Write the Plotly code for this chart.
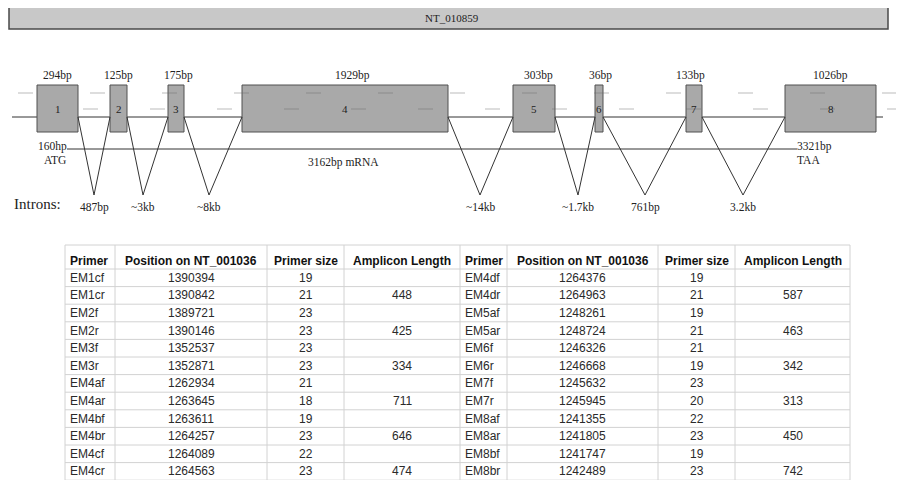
import plotly.graph_objects as go

# ---------------- data ----------------
contig_name = "NT_010859"
exon_numbers = ["1", "2", "3", "4", "5", "6", "7", "8"]
exon_sizes = ["294bp", "125bp", "175bp", "1929bp", "303bp", "36bp", "133bp", "1026bp"]
intron_sizes = ["487bp", "~3kb", "~8kb", "~14kb", "~1.7kb", "761bp", "3.2kb"]
start_label = ["160hp", "ATG"]
stop_label = ["3321bp", "TAA"]
mrna_label = "3162bp mRNA"

header = ["Primer", "Position on NT_001036", "Primer size", "Amplicon Length"]
primers_left = ["EM1cf", "EM1cr", "EM2f", "EM2r", "EM3f", "EM3r",
                "EM4af", "EM4ar", "EM4bf", "EM4br", "EM4cf", "EM4cr"]
pos_left = ["1390394", "1390842", "1389721", "1390146", "1352537", "1352871",
            "1262934", "1263645", "1263611", "1264257", "1264089", "1264563"]
size_left = ["19", "21", "23", "23", "23", "23", "21", "18", "19", "23", "22", "23"]
amp_left = ["", "448", "", "425", "", "334", "", "711", "", "646", "", "474"]
primers_right = ["EM4df", "EM4dr", "EM5af", "EM5ar", "EM6f", "EM6r",
                 "EM7f", "EM7r", "EM8af", "EM8ar", "EM8bf", "EM8br"]
pos_right = ["1264376", "1264963", "1248261", "1248724", "1246326", "1246668",
             "1245632", "1245945", "1241355", "1241805", "1241747", "1242489"]
size_right = ["19", "21", "19", "21", "21", "19", "23", "20", "22", "23", "19", "23"]
amp_right = ["", "587", "", "463", "", "342", "", "313", "", "450", "", "742"]

# ---------------- layout geometry (pixels in the window) ----------------
W, H = 904, 480
BODY = 8  # default page margin around the plot div
exon_x = [(37, 78), (110, 127), (168, 184), (242, 448), (513, 555), (595, 603), (686, 702), (785, 876)]
size_label_x = [57, 118, 178, 352, 538, 600, 690, 830]
intron_apex_x = [94, 143, 209, 480, 578, 645, 743]
exon_top, exon_bot = 85, 132
line_y = 117
apex_y = 195
mrna_y = 149

col_edges = [65, 115, 267, 344, 460, 507, 658, 735, 850]
tbl_top, hdr_bottom, row_h = 245, 269, 17.6

serif = "Liberation Serif"
sans = "Liberation Sans"
TXT = "#222"

fig = go.Figure()
shapes = []
annots = []


def label(x, y, text, size, family=serif, color=TXT, xanchor="center"):
    annots.append(dict(x=x, y=y, text=text, showarrow=False, xanchor=xanchor, yanchor="middle",
                       font=dict(family=family, size=size, color=color)))


# top contig bar
shapes.append(dict(type="rect", x0=9, x1=888, y0=5, y1=29, fillcolor="#c8c8c8",
                   line=dict(color="#4a4a4a", width=1.5), layer="above"))
label(452, 17.5, contig_name, 11)

# faint dashed background lines
shapes.append(dict(type="line", x0=18, x1=904, y0=93, y1=93,
                   line=dict(color="rgba(110,110,110,0.3)", width=1.5, dash="15px,57px"), layer="above"))
shapes.append(dict(type="line", x0=83, x1=904, y0=109, y1=109,
                   line=dict(color="rgba(110,110,110,0.3)", width=1.5, dash="15px,52px"), layer="above"))

# main genomic line and mRNA line
shapes.append(dict(type="line", x0=12, x1=883, y0=line_y, y1=line_y,
                   line=dict(color="#333", width=1), layer="below"))
shapes.append(dict(type="line", x0=67, x1=797, y0=mrna_y, y1=mrna_y,
                   line=dict(color="#333", width=1), layer="below"))

# exons
for i, (x0, x1) in enumerate(exon_x):
    shapes.append(dict(type="rect", x0=x0, x1=x1, y0=exon_top, y1=exon_bot,
                       fillcolor="#a9a9a9", line=dict(color="#505050", width=1), layer="below"))
    label((x0 + x1) / 2, 109, exon_numbers[i], 11)
    label(size_label_x[i], 75, exon_sizes[i], 11.5)

# introns (V shapes)
for i, ax in enumerate(intron_apex_x):
    xl = exon_x[i][1]
    xr = exon_x[i + 1][0]
    shapes.append(dict(type="path", path=f"M {xl},{line_y} L {ax},{apex_y} L {xr},{line_y}",
                       line=dict(color="#333", width=1), layer="below"))
    label(ax, 207, intron_sizes[i], 11.5)

label(12, 204, "Introns:", 15, xanchor="left")
label(36, 146, start_label[0], 11.5, xanchor="left")
label(42, 160, start_label[1], 11.5, xanchor="left")
label(795, 146, stop_label[0], 11.5, xanchor="left")
label(795, 160, stop_label[1], 11.5, xanchor="left")
label(343, 162, mrna_label, 11.5)

# ---------------- table (drawn on the same pixel axes) ----------------
GRID = "#d2d2d2"
columns = [primers_left, pos_left, size_left, amp_left,
           primers_right, pos_right, size_right, amp_right]
headers = header + header
n_rows = len(primers_left)
row_lines = [tbl_top, hdr_bottom] + [hdr_bottom + row_h * (k + 1) for k in range(n_rows)]
for yv in row_lines:
    shapes.append(dict(type="line", x0=col_edges[0], x1=col_edges[-1], y0=yv, y1=yv,
                       line=dict(color=GRID, width=1), layer="below"))
for xv in col_edges:
    shapes.append(dict(type="line", x0=xv, x1=xv, y0=tbl_top, y1=row_lines[-1],
                       line=dict(color=GRID, width=1), layer="below"))

for c, col in enumerate(columns):
    left_col = (c % 4 == 0)
    x0, x1 = col_edges[c], col_edges[c + 1]
    xa = x0 + 3 if left_col else (x0 + x1) / 2
    anch = "left" if left_col else "center"
    label(xa, 261, "<b>%s</b>" % headers[c], 12, family=sans, color="#111", xanchor=anch)
    for r, v in enumerate(col):
        if v:
            label(xa, hdr_bottom + row_h * r + row_h / 2, v, 12, family=sans, color="#2a2a2a", xanchor=anch)

# invisible trace to set up the axes
fig.add_trace(go.Scatter(x=[0, W], y=[0, H], mode="markers", marker=dict(opacity=0),
                         hoverinfo="skip", showlegend=False))

fig.update_layout(
    width=W - BODY, height=H - BODY, margin=dict(l=0, r=0, t=0, b=0),
    paper_bgcolor="white", plot_bgcolor="white",
    xaxis=dict(range=[BODY, W], visible=False, fixedrange=True),
    yaxis=dict(range=[H, BODY], visible=False, fixedrange=True),
    shapes=shapes, annotations=annots, showlegend=False,
)
fig.write_html("out.html")
